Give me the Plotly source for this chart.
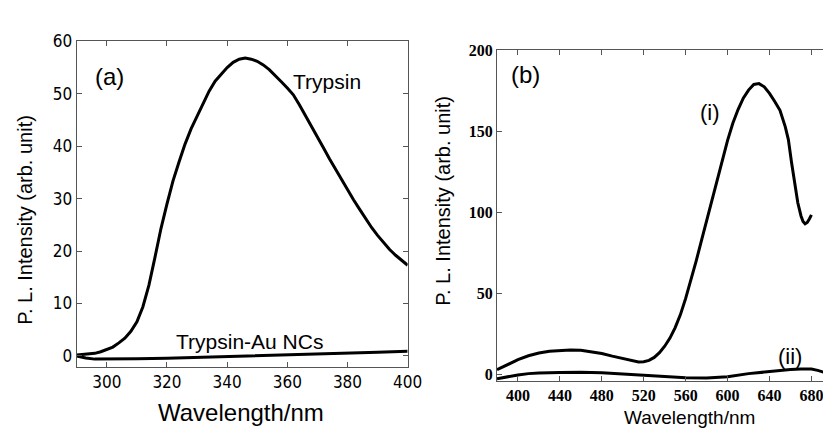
import plotly.graph_objects as go

W, H = 831, 430

# ---- Panel (a) data ----
trypsin_wl = [290, 293, 296, 298, 300, 302, 304, 306, 308, 310, 312, 314, 316, 318, 320, 322, 324,
              326, 328, 330, 332, 334, 336, 338, 340, 342, 344, 346, 348, 350, 352, 354, 356, 358,
              360, 362, 364, 366, 368, 370, 372, 374, 376, 378, 380, 382, 384, 386, 388, 390, 392,
              394, 396, 398, 400]
trypsin_pl = [0.2, 0.3, 0.5, 0.8, 1.2, 1.7, 2.5, 3.4, 4.7, 6.5, 9.4, 13.5, 18.8, 24.3, 29.0, 33.4, 37.0,
              40.4, 43.3, 45.8, 48.2, 50.5, 52.4, 53.8, 55.0, 56.0, 56.6, 56.8, 56.6, 56.2, 55.5, 54.6, 53.5, 52.3,
              51.1, 49.8, 47.9, 45.9, 43.9, 41.8, 39.7, 37.6, 35.6, 33.6, 31.7, 29.8, 28.0, 26.2, 24.5, 23.0, 21.6,
              20.3, 19.2, 18.2, 17.3]
nc_wl = [290, 293, 296, 300, 305, 310, 320, 330, 340, 350, 360, 370, 380, 390, 400]
nc_pl = [0.0, -0.4, -0.6, -0.6, -0.6, -0.55, -0.45, -0.3, -0.1, 0.05, 0.2, 0.35, 0.5, 0.7, 0.9]

# ---- Panel (b) data ----
i_wl = [380, 390, 400, 410, 420, 430, 440, 450, 460, 470, 480, 490, 500, 508, 515, 520, 525, 530,
        535, 540, 545, 550, 555, 560, 565, 570, 575, 580, 585, 590, 595, 600, 605, 610, 615, 620,
        625, 630, 635, 640, 645, 650, 655, 658, 661, 664, 667, 670, 672, 674, 676, 678, 680]
i_pl = [3.0, 6.3, 9.2, 11.6, 13.3, 14.4, 15.0, 15.2, 15.0, 14.2, 13.0, 11.4, 9.8, 8.5, 7.8, 7.9, 8.8, 10.6,
        13.5, 17.5, 22.5, 29.0, 37.0, 47.0, 58.0, 70.0, 82.5, 95.0, 108.0, 121.0, 133.0, 144.5, 155.0, 163.5, 170.5, 175.5,
        179.0, 179.5, 177.5, 173.5, 168.5, 163.0, 153.0, 145.0, 131.0, 117.0, 106.0, 98.0, 94.5, 93.0, 93.8, 96.0, 98.5]
ii_wl = [380, 390, 400, 410, 420, 440, 460, 480, 500, 520, 540, 560, 580, 600, 620, 640, 660, 670, 680, 686, 692]
ii_pl = [-2.6, -1.3, -0.2, 0.6, 1.0, 1.3, 1.5, 1.2, 0.4, -0.5, -1.4, -2.0, -2.1, -1.3, 0.6, 2.0, 3.1, 3.4, 3.4, 2.6, 1.4]

fig = go.Figure()
line = dict(color="black", width=3)
fig.add_trace(go.Scatter(x=trypsin_wl, y=trypsin_pl, mode="lines", line=line,
                         xaxis="x", yaxis="y", showlegend=False))
fig.add_trace(go.Scatter(x=nc_wl, y=nc_pl, mode="lines", line=line,
                         xaxis="x", yaxis="y", showlegend=False))
fig.add_trace(go.Scatter(x=i_wl, y=i_pl, mode="lines", line=line,
                         xaxis="x2", yaxis="y2", showlegend=False))
fig.add_trace(go.Scatter(x=ii_wl, y=ii_pl, mode="lines", line=line,
                         xaxis="x2", yaxis="y2", showlegend=False))

ax_common = dict(showline=True, linecolor="#555", linewidth=1.2, ticks="inside", ticklen=5,
                 tickwidth=1, tickcolor="#555", showgrid=False, zeroline=False)
font_a = dict(family="Liberation Sans Narrow, DejaVu Sans Condensed, Arial", size=17, color="black")
font_b = dict(family="Liberation Serif, Times New Roman, serif", size=16, color="black", weight="bold")

def px(x):
    return x / W

def py(y):
    return 1 - y / H

fig.update_layout(
    width=W, height=H, margin=dict(l=0, r=0, t=0, b=0),
    paper_bgcolor="white", plot_bgcolor="white",
    xaxis=dict(domain=[px(70), px(407)], range=[290, 400], dtick=20, mirror="ticks",
               anchor="y", tickfont=font_a, **ax_common),
    yaxis=dict(domain=[py(359), py(24)], range=[-2.1, 60], dtick=10, mirror="ticks",
               anchor="x", tickfont=font_a, **ax_common),
    xaxis2=dict(domain=[px(498), 1.0], range=[380, 692], dtick=40, mirror="ticks",
                anchor="y2", tickfont=font_b, **ax_common),
    yaxis2=dict(domain=[py(373.5), py(33.3)], range=[-4, 200], dtick=50,
                anchor="x2", tickfont=font_b, **ax_common),
)

sans = "Liberation Sans, Arial, sans-serif"
ann = [
    dict(text="(a)", x=px(103), y=py(60), size=24),
    dict(text="Trypsin", x=px(325), y=py(65), size=21),
    dict(text="Trypsin-Au NCs", x=px(246), y=py(333), size=21),
    dict(text="(b)", x=px(527), y=py(58), size=24),
    dict(text="(i)", x=px(715), y=py(97), size=22),
    dict(text="(ii)", x=px(796), y=py(348), size=22),
    dict(text="Wavelength/nm", x=px(237), y=py(406), size=24),
    dict(text="Wavelength/nm", x=px(694), y=py(411), size=19),
    dict(text="P. L. Intensity (arb. unit)", x=px(18), y=py(208), size=20, angle=-90),
    dict(text="P. L. Intensity (arb. unit)", x=px(443), y=py(188), size=20, angle=-90),
]
for a in ann:
    fig.add_annotation(text=a["text"], x=a["x"], y=a["y"], xref="paper", yref="paper",
                       xanchor="center", yanchor="middle", showarrow=False,
                       textangle=a.get("angle", 0),
                       font=dict(family=sans, size=a["size"], color="black"))

fig.write_html("out.html")
